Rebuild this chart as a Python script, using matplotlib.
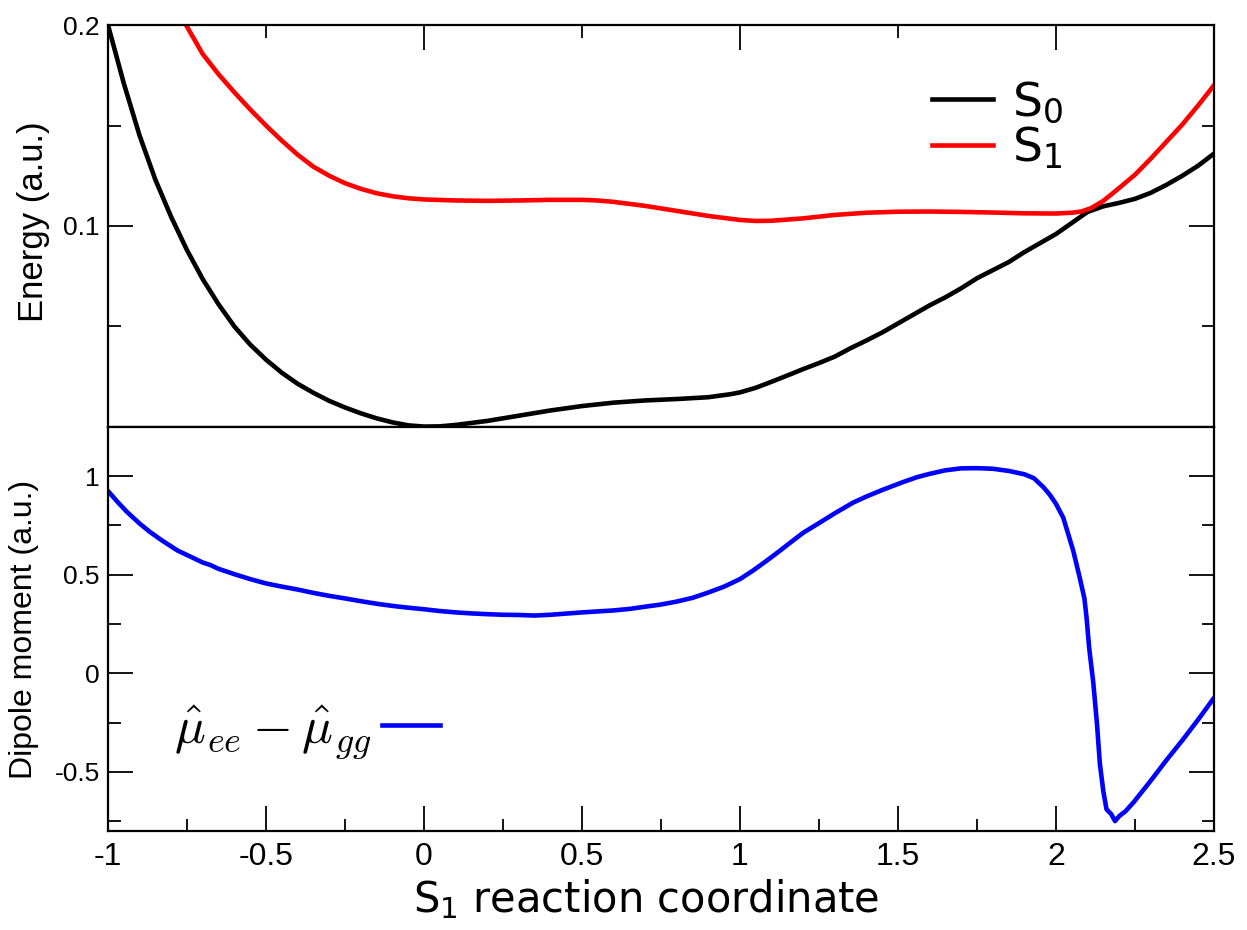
import numpy as np
import matplotlib.pyplot as plt
from matplotlib.ticker import MultipleLocator

plt.rcParams['mathtext.fontset'] = 'cm'

# ground and first excited state energies along the S1 path
s0_x = [-1.00, -0.95, -0.90, -0.85, -0.80, -0.75, -0.70, -0.65, -0.60, -0.55,
        -0.50, -0.45, -0.40, -0.35, -0.30, -0.25, -0.20, -0.15, -0.10, -0.05,
        0.00, 0.05, 0.10, 0.20, 0.30, 0.40, 0.50, 0.60, 0.70, 0.80, 0.90, 0.97,
        1.00, 1.05, 1.10, 1.15, 1.20, 1.25, 1.30, 1.35, 1.40, 1.45, 1.50, 1.55,
        1.60, 1.65, 1.70, 1.75, 1.80, 1.85, 1.90, 1.95, 2.00, 2.05, 2.10, 2.15,
        2.20, 2.25, 2.30, 2.35, 2.40, 2.45, 2.50]
s0_e = [0.2000, 0.1710, 0.1450, 0.1230, 0.1045, 0.0880, 0.0735, 0.0610, 0.0500,
        0.0410, 0.0335, 0.0270, 0.0215, 0.0170, 0.0130, 0.0097, 0.0068, 0.0043,
        0.0023, 0.0008, 0.0002, 0.0003, 0.0010, 0.0030, 0.0056, 0.0082, 0.0104,
        0.0121, 0.0132, 0.0139, 0.0148, 0.0163, 0.0172, 0.0195, 0.0225, 0.0256,
        0.0288, 0.0318, 0.0350, 0.0392, 0.0430, 0.0470, 0.0515, 0.0560, 0.0605,
        0.0645, 0.0690, 0.0740, 0.0780, 0.0820, 0.0870, 0.0915, 0.0960, 0.1015,
        0.1070, 0.1098, 0.1115, 0.1135, 0.1165, 0.1205, 0.1250, 0.1300, 0.1360]

s1_x = [-0.753, -0.70, -0.65, -0.60, -0.55, -0.50, -0.45, -0.40, -0.35, -0.30,
        -0.25, -0.20, -0.15, -0.10, -0.05, 0.00, 0.10, 0.20, 0.30, 0.40, 0.50,
        0.55, 0.60, 0.70, 0.80, 0.90, 1.00, 1.05, 1.10, 1.20, 1.30, 1.40, 1.50,
        1.60, 1.70, 1.80, 1.90, 2.00, 2.05, 2.08, 2.11, 2.15, 2.19, 2.25, 2.30,
        2.35, 2.40, 2.45, 2.50]
s1_e = [0.2000, 0.1855, 0.1755, 0.1665, 0.1580, 0.1500, 0.1425, 0.1355, 0.1295,
        0.1250, 0.1213, 0.1185, 0.1163, 0.1148, 0.1138, 0.1132, 0.1127, 0.1125,
        0.1127, 0.1130, 0.1130, 0.1127, 0.1120, 0.1100, 0.1075, 0.1050, 0.1030,
        0.1025, 0.1026, 0.1038, 0.1055, 0.1066, 0.1071, 0.1072, 0.1070, 0.1067,
        0.1063, 0.1062, 0.1066, 0.1072, 0.1088, 0.1125, 0.1176, 0.1255, 0.1335,
        0.1420, 0.1505, 0.1600, 0.1700]

# dipole difference mu_ee - mu_gg
dip_x = [-1.00, -0.97, -0.94, -0.90, -0.867, -0.83, -0.78, -0.73, -0.70, -0.677,
         -0.65, -0.60, -0.55, -0.50, -0.45, -0.40, -0.35, -0.30, -0.25, -0.20,
         -0.15, -0.10, -0.05, 0.00, 0.05, 0.10, 0.15, 0.20, 0.25, 0.30, 0.35,
         0.40, 0.50, 0.60, 0.652, 0.70, 0.75, 0.80, 0.85, 0.90, 0.95, 1.00,
         1.042, 1.08, 1.12, 1.16, 1.20, 1.25, 1.30, 1.358, 1.40, 1.45, 1.517,
         1.56, 1.60, 1.65, 1.70, 1.75, 1.80, 1.85, 1.90, 1.93, 1.96, 1.981,
         2.00, 2.023, 2.04, 2.055, 2.076, 2.09, 2.097, 2.105, 2.118, 2.13, 2.139,
         2.15, 2.16, 2.175, 2.187, 2.20, 2.22, 2.245, 2.30, 2.35, 2.40, 2.45,
         2.50]
dip_y = [0.925, 0.870, 0.819, 0.760, 0.717, 0.675, 0.623, 0.585, 0.562, 0.550,
         0.530, 0.503, 0.478, 0.456, 0.440, 0.425, 0.408, 0.393, 0.380, 0.366,
         0.353, 0.342, 0.333, 0.325, 0.316, 0.309, 0.304, 0.300, 0.297, 0.296,
         0.293, 0.297, 0.309, 0.319, 0.327, 0.338, 0.349, 0.364, 0.383, 0.410,
         0.440, 0.478, 0.522, 0.566, 0.614, 0.664, 0.713, 0.762, 0.812, 0.866,
         0.897, 0.930, 0.971, 0.995, 1.012, 1.030, 1.040, 1.041, 1.038, 1.027,
         1.010, 0.990, 0.945, 0.905, 0.860, 0.790, 0.700, 0.620, 0.480, 0.380,
         0.280, 0.130, -0.046, -0.260, -0.460, -0.600, -0.690, -0.715, -0.750,
         -0.725, -0.700, -0.656, -0.545, -0.440, -0.340, -0.235, -0.125]

fig = plt.figure(figsize=(12.47, 9.30), dpi=100)
ax1 = fig.add_axes([0.0866, 0.5409, 0.8869, 0.4322])
ax2 = fig.add_axes([0.0866, 0.1065, 0.8869, 0.4344])

ax1.plot(s0_x, s0_e, color='black', lw=3.3, label=r'$\mathregular{S_0}$')
ax1.plot(s1_x, s1_e, color='red', lw=3.3, label=r'$\mathregular{S_1}$')
ax2.plot(dip_x, dip_y, color='blue', lw=3.3,
         label=r'$\hat{\mu}_{ee} - \hat{\mu}_{gg}$')

ax1.set_xlim(-1, 2.5)
ax1.set_ylim(0, 0.2)
ax2.set_xlim(-1, 2.5)
ax2.set_ylim(-0.8, 1.25)

for ax in (ax1, ax2):
    for sp in ax.spines.values():
        sp.set_linewidth(1.6)
    ax.tick_params(which='both', direction='in', width=1.3, left=True, right=True)
    ax.tick_params(which='major', length=18)
    ax.tick_params(which='minor', length=9)

ax1.yaxis.set_major_locator(MultipleLocator(0.1))
ax1.yaxis.set_minor_locator(MultipleLocator(0.05))
ax1.xaxis.set_major_locator(MultipleLocator(1.0))
ax1.xaxis.set_minor_locator(MultipleLocator(0.5))
ax1.tick_params(which='both', top=True, bottom=False, labelbottom=False)
ax1.set_yticks([0.1, 0.2])
ax1.set_yticklabels(['0.1', '0.2'])

ax2.yaxis.set_major_locator(MultipleLocator(0.5))
ax2.yaxis.set_minor_locator(MultipleLocator(0.25))
ax2.xaxis.set_major_locator(MultipleLocator(0.5))
ax2.xaxis.set_minor_locator(MultipleLocator(0.25))
ax2.tick_params(which='both', top=False, bottom=True)
ax2.set_yticks([-0.5, 0, 0.5, 1])
ax2.set_yticklabels(['-0.5', '0', '0.5', '1'])
ax2.set_xticks([-1, -0.5, 0, 0.5, 1, 1.5, 2, 2.5])
ax2.set_xticklabels(['-1', '-0.5', '0', '0.5', '1', '1.5', '2', '2.5'])

for lab in ax1.get_yticklabels() + ax2.get_yticklabels():
    lab.set_family('Liberation Sans')
    lab.set_fontsize(19)
for lab in ax2.get_xticklabels():
    lab.set_family('Liberation Sans')
    lab.set_fontsize(23)
ax2.tick_params(axis='x', pad=8)
ax1.tick_params(axis='y', pad=6)
ax2.tick_params(axis='y', pad=6)

ax1.set_ylabel('Energy (a.u.)', family='Liberation Sans', fontsize=25)
ax2.set_ylabel('Dipole moment (a.u.)', family='Liberation Sans', fontsize=23)
ax1.yaxis.set_label_coords(-0.052, 0.51)
ax2.yaxis.set_label_coords(-0.062, 0.5)
ax2.set_xlabel(r'$\mathregular{S_1}$ reaction coordinate', family='DejaVu Sans',
               fontsize=30)
ax2.xaxis.set_label_coords(0.487, -0.115)

ax1.legend(loc='center left', bbox_to_anchor=(0.745, 0.75), frameon=False,
           prop={'family': 'DejaVu Sans', 'size': 34}, handlelength=1.3,
           handletextpad=0.4, labelspacing=0.0, borderpad=0, borderaxespad=0)
ax2.legend(loc='center left', bbox_to_anchor=(0.06, 0.245), frameon=False,
           fontsize=37, markerfirst=False, handlelength=1.13,
           handletextpad=0.2, borderpad=0, borderaxespad=0)

fig.savefig('out.png', dpi=100)
